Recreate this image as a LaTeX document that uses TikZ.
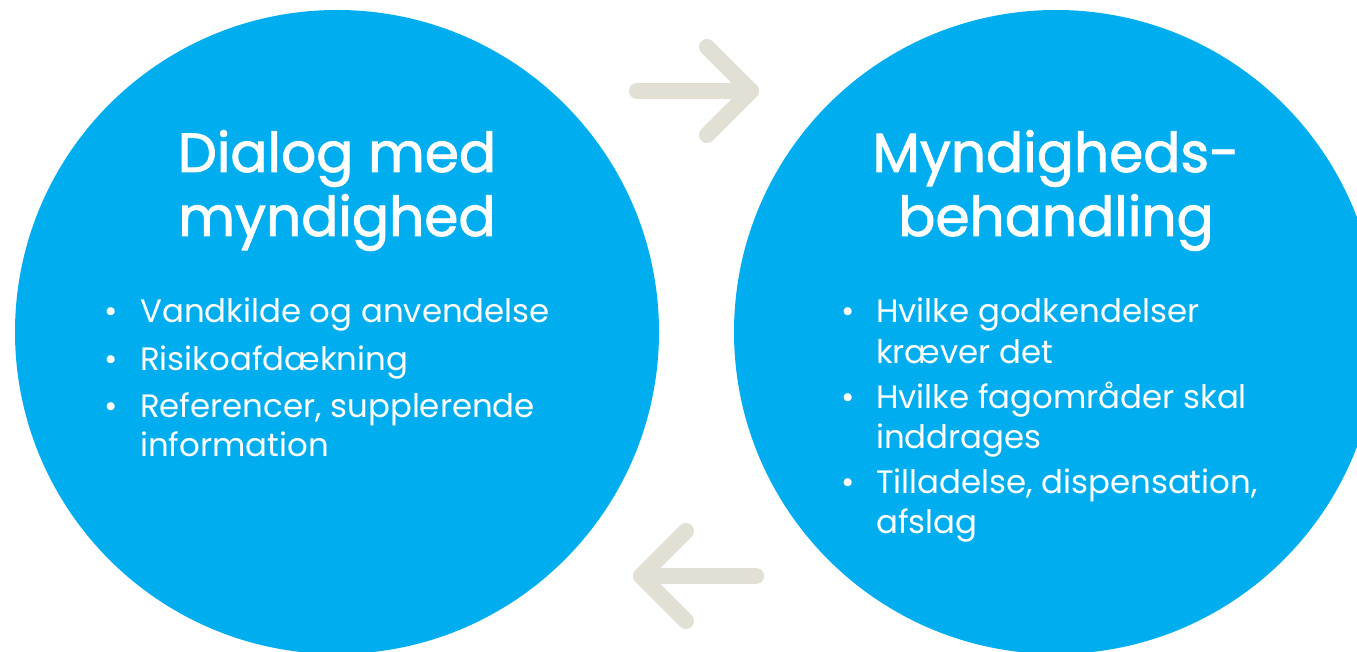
\documentclass[tikz,border=0pt]{standalone}
\usepackage{fontspec}
\setmainfont{Poppins}
\newfontfamily\titelfont[FakeBold=1.6]{Poppins}
\definecolor{dialogblue}{HTML}{00AEEF}
\definecolor{arrowgrey}{HTML}{E2DFD5}
\tikzset{
  bubble/.style={circle, fill=dialogblue, minimum size=644pt, inner sep=0pt},
  titel/.style={text=white, font=\titelfont\fontsize{55}{65}\selectfont, anchor=base, inner sep=0pt},
  punkt/.style={text=white, font=\fontsize{32.4}{40}\selectfont, anchor=base west, inner sep=0pt},
  pil/.style={draw=arrowgrey, line width=16pt, line cap=round, line join=round}
}

\begin{document}
\begin{tikzpicture}[x=1pt,y=-1pt]
 	\useasboundingbox (0,0) rectangle (1357,652);
 	\clip (0,0) rectangle (1357,652);
 	\node[bubble] (dialog) at (337,332) {};
 	\node[bubble] (behandling) at (1056,332) {};
 	% titles
 	\node[titel] (dialogA) at (337,172) {Dialog med};
 	\node[titel] (dialogB) at (337,236) {myndighed};
 	\node[titel] (behandlingA) at (1056,172) {Myndigheds-};
 	\node[titel] (behandlingB) at (1056,236) {behandling};
 	% left list
 	\node[punkt] (dotA) at (104,323) {\textbullet};
 	\node[punkt] (dotB) at (104,370) {\textbullet};
 	\node[punkt] (dotC) at (104,417) {\textbullet};
 	\node[punkt] (vand) at (140,323) {Vandkilde og anvendelse};
 	\node[punkt] (risiko) at (140,370) {Risikoafdækning};
 	\node[punkt] (refA) at (140,417) {Referencer, supplerende};
 	\node[punkt] (refB) at (140,456) {information};
 	% right list
 	\node[punkt] (dotD) at (841,323) {\textbullet};
 	\node[punkt] (dotE) at (841,408) {\textbullet};
 	\node[punkt] (dotF) at (841,493) {\textbullet};
 	\node[punkt] (godkA) at (876,323) {Hvilke godkendelser};
 	\node[punkt] (godkB) at (876,363) {kræver det};
 	\node[punkt] (fagA) at (876,408) {Hvilke fagområder skal};
 	\node[punkt] (fagB) at (876,448) {inddrages};
 	\node[punkt] (tillA) at (876,493) {Tilladelse, dispensation,};
 	\node[punkt] (tillB) at (876,533) {afslag};
 	% arrows
 	\coordinate (fremA) at (637,91);
 	\coordinate (fremB) at (751,91);
 	\coordinate (tilbageA) at (756,576);
 	\coordinate (tilbageB) at (641,576);
 	\draw[pil] (fremA) -- (fremB);
 	\draw[pil] (707,47) -- (fremB) -- (707,135);
 	\draw[pil] (tilbageA) -- (tilbageB);
 	\draw[pil] (686,531) -- (tilbageB) -- (686,621);
\end{tikzpicture}
\end{document}
